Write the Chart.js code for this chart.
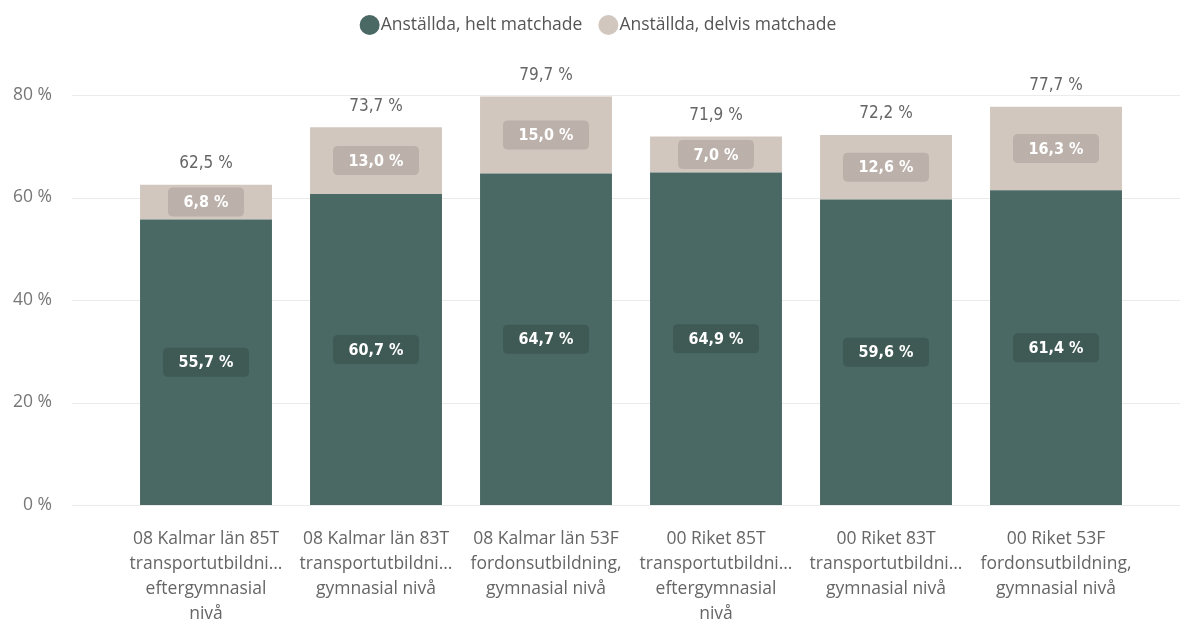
<!DOCTYPE html>
<html>
<head>
<meta charset="utf-8">
<script src="https://cdn.jsdelivr.net/npm/chart.js@4/dist/chart.umd.min.js"></script>
<style>
  html, body { margin: 0; padding: 0; background: #ffffff; }
  #wrap { width: 1180px; height: 621px; position: relative; }
</style>
</head>
<body>
<div id="wrap"><canvas id="c" width="1180" height="621"></canvas></div>
<script>
const categories = [
  ["08 Kalmar län 85T", "transportutbildni…", "eftergymnasial", "nivå"],
  ["08 Kalmar län 83T", "transportutbildni…", "gymnasial nivå"],
  ["08 Kalmar län 53F", "fordonsutbildning,", "gymnasial nivå"],
  ["00 Riket 85T", "transportutbildni…", "eftergymnasial", "nivå"],
  ["00 Riket 83T", "transportutbildni…", "gymnasial nivå"],
  ["00 Riket 53F", "fordonsutbildning,", "gymnasial nivå"]
];
const seriesNames = ["Anställda, helt matchade", "Anställda, delvis matchade"];
const heltMatchade = [55.7, 60.7, 64.7, 64.9, 59.6, 61.4];
const delvisMatchade = [6.8, 13.0, 15.0, 7.0, 12.6, 16.3];
const yTicks = [0, 20, 40, 60, 80];

const SANS = '"Open Sans", "Noto Sans", sans-serif';
const COND = '"DejaVu Sans Condensed", "DejaVu Sans", sans-serif';
const fmt = v => v.toFixed(1).replace('.', ',') + ' %';

const gridPlugin = {
  id: 'extGrid',
  beforeDatasetsDraw(chart) {
    const ctx = chart.ctx, ys = chart.scales.y;
    ctx.save();
    ctx.strokeStyle = '#ebebeb';
    ctx.lineWidth = 1;
    ys.ticks.forEach(t => {
      const py = Math.round(ys.getPixelForValue(t.value)) + 0.5;
      ctx.beginPath();
      ctx.moveTo(72, py);
      ctx.lineTo(1180, py);
      ctx.stroke();
    });
    ctx.restore();
  }
};

function roundRect(ctx, x, y, w, h, r) {
  ctx.beginPath();
  ctx.moveTo(x + r, y);
  ctx.lineTo(x + w - r, y);
  ctx.quadraticCurveTo(x + w, y, x + w, y + r);
  ctx.lineTo(x + w, y + h - r);
  ctx.quadraticCurveTo(x + w, y + h, x + w - r, y + h);
  ctx.lineTo(x + r, y + h);
  ctx.quadraticCurveTo(x, y + h, x, y + h - r);
  ctx.lineTo(x, y + r);
  ctx.quadraticCurveTo(x, y, x + r, y);
  ctx.closePath();
}

const legendPlugin = {
  id: 'topLegend',
  afterDraw(chart) {
    const ctx = chart.ctx;
    const ds = chart.data.datasets;
    ctx.save();
    ctx.font = '17.5px ' + SANS;
    ctx.textBaseline = 'middle';
    ctx.textAlign = 'left';
    const r = 10, gapText = 1, gapItem = 16;
    const widths = ds.map(d => 2 * r + gapText + ctx.measureText(d.label).width);
    const total = widths.reduce((a, b) => a + b, 0) + gapItem * (ds.length - 1);
    let x = 598 - total / 2;
    const cy = 25;
    ds.forEach((d, i) => {
      ctx.beginPath();
      ctx.arc(x + r, cy, r, 0, Math.PI * 2);
      ctx.fillStyle = d.backgroundColor;
      ctx.fill();
      ctx.fillStyle = '#555555';
      ctx.fillText(d.label, x + 2 * r + gapText, cy);
      x += widths[i] + gapItem;
    });
    ctx.restore();
  }
};

const labelPlugin = {
  id: 'barLabels',
  afterDatasetsDraw(chart) {
    const ctx = chart.ctx;
    const boxColors = ['#3f5955', '#bbb0aa'];
    ctx.save();
    ctx.textAlign = 'center';
    ctx.textBaseline = 'middle';
    chart.data.datasets.forEach((ds, i) => {
      const meta = chart.getDatasetMeta(i);
      meta.data.forEach((bar, j) => {
        const p = bar.getProps(['x', 'y', 'base'], true);
        const cy = (p.y + p.base) / 2;
        const txt = fmt(ds.data[j]);
        ctx.font = 'bold 16px ' + COND;
        const w = ctx.measureText(txt).width + 31;
        const h = 29;
        roundRect(ctx, p.x - w / 2, cy - h / 2, w, h, 5);
        ctx.fillStyle = boxColors[i];
        ctx.fill();
        ctx.fillStyle = '#ffffff';
        ctx.fillText(txt, p.x, cy + 1);
      });
    });
    const last = chart.getDatasetMeta(chart.data.datasets.length - 1);
    ctx.font = '17px ' + COND;
    ctx.fillStyle = '#666666';
    last.data.forEach((bar, j) => {
      const p = bar.getProps(['x', 'y'], true);
      const total = heltMatchade[j] + delvisMatchade[j];
      ctx.fillText(fmt(total), p.x, p.y - 21);
    });
    ctx.restore();
  }
};

new Chart(document.getElementById('c'), {
  type: 'bar',
  data: {
    labels: categories,
    datasets: [
      { label: seriesNames[0], data: heltMatchade, backgroundColor: '#4a6864', borderWidth: 0 },
      { label: seriesNames[1], data: delvisMatchade, backgroundColor: '#d1c7bf', borderWidth: 0 }
    ]
  },
  options: {
    responsive: false,
    animation: false,
    layout: { padding: { left: 12, right: 39, top: 95, bottom: 0 } },
    datasets: { bar: { categoryPercentage: 1, barPercentage: 0.776 } },
    plugins: {
      legend: { display: false },
      tooltip: { enabled: false }
    },
    scales: {
      x: {
        stacked: true,
        afterFit(scale) { scale.height = 116; },
        grid: { display: false, drawTicks: false },
        border: { display: false },
        ticks: {
          color: '#666666',
          padding: 22,
          maxRotation: 0,
          autoSkip: false,
          font: { family: SANS, size: 17.5, lineHeight: 1.42 }
        }
      },
      y: {
        stacked: true,
        min: 0,
        max: 80,
        afterFit(scale) { scale.width = 109; },
        grid: { display: false, drawTicks: false },
        border: { display: false },
        ticks: {
          stepSize: 20,
          padding: 69,
          color: '#777777',
          font: { family: SANS, size: 17.5 },
          callback: v => yTicks.includes(v) ? v + ' %' : ''
        }
      }
    }
  },
  plugins: [gridPlugin, labelPlugin, legendPlugin]
});
</script>
</body>
</html>
